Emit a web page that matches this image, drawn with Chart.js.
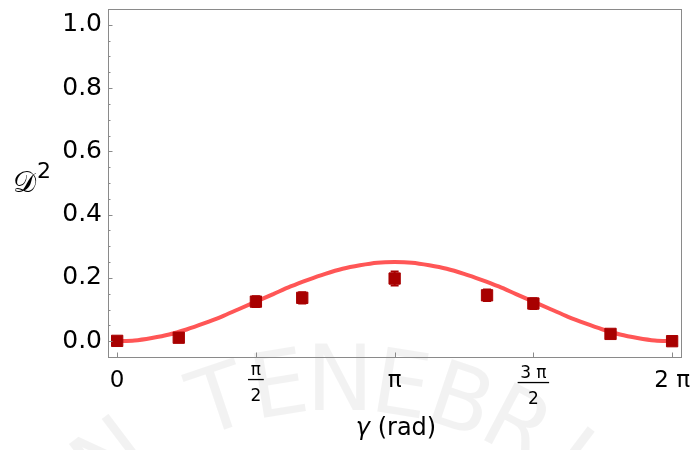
<!DOCTYPE html>
<html>
<head>
<meta charset="utf-8">
<script src="https://cdn.jsdelivr.net/npm/chart.js@4.4.1/dist/chart.umd.min.js"></script>
<style>
  html, body { margin: 0; padding: 0; background: #fff; }
  #wrap { width: 699px; height: 450px; }
</style>
</head>
<body>
<div id="wrap"><canvas id="c" width="699" height="450"></canvas></div>
<script>
// γ values are stored in units of π (0 … 2 means 0 … 2π)
const fitGammaPi = [0, 0.0625, 0.125, 0.1875, 0.25, 0.3125, 0.375, 0.4375, 0.5,
  0.5625, 0.625, 0.6875, 0.75, 0.8125, 0.875, 0.9375, 1,
  1.0625, 1.125, 1.1875, 1.25, 1.3125, 1.375, 1.4375, 1.5,
  1.5625, 1.625, 1.6875, 1.75, 1.8125, 1.875, 1.9375, 2];
const fitD2 = [0.000, 0.002, 0.010, 0.021, 0.037, 0.056, 0.077, 0.101, 0.125,
  0.149, 0.173, 0.194, 0.213, 0.229, 0.240, 0.248, 0.250,
  0.248, 0.240, 0.229, 0.213, 0.194, 0.173, 0.149, 0.125,
  0.101, 0.077, 0.056, 0.037, 0.021, 0.010, 0.002, 0.000];

const measGammaPi = [0, 0.222, 0.5, 0.667, 1, 1.333, 1.5, 1.778, 2];
const measD2      = [0.001, 0.011, 0.125, 0.137, 0.198, 0.145, 0.119, 0.023, 0.000];
const measErr     = [0.004, 0.004, 0.017, 0.018, 0.022, 0.018, 0.017, 0.005, 0.004];

const xTickValues = [0, 0.5, 1, 1.5, 2];
const xTickLabels = [['0'], ['π', '2'], ['π'], ['3 π', '2'], ['2 π']];
const yTickValues = [0, 0.2, 0.4, 0.6, 0.8, 1.0];
const yTickLabels = ['0.0', '0.2', '0.4', '0.6', '0.8', '1.0'];
const yMinorStep = 0.05;

const FONT = '"DejaVu Sans", "Liberation Sans", sans-serif';
const FRAME = '#8a8a8a';
const MARK = '#a80000';
const CURVE = '#ff5656';

// Faint arched lettering behind the plot
const backdrop = {
  id: 'backdrop',
  beforeDraw(chart) {
    const c = chart.ctx;
    c.save();
    c.fillStyle = '#fff';
    c.fillRect(0, 0, chart.width, chart.height);
    c.font = '90px ' + FONT;
    c.fillStyle = 'rgba(0,0,0,0.05)';
    c.textAlign = 'center';
    c.textBaseline = 'alphabetic';
    const text = 'N TENEBRIS';
    const cx = 340, cy = 760, R = 350, step = 9.3 * Math.PI / 180;
    for (let i = 0; i < text.length; i++) {
      const a = (i - 4) * step;
      c.save();
      c.translate(cx + R * Math.sin(a), cy - R * Math.cos(a));
      c.rotate(a);
      c.fillText(text[i], 0, 0);
      c.restore();
    }
    c.restore();
  }
};

// Vertical error bars with caps on the measured points
const errorBars = {
  id: 'errorBars',
  afterDatasetsDraw(chart) {
    const c = chart.ctx, xs = chart.scales.x, ys = chart.scales.y;
    c.save();
    c.strokeStyle = MARK;
    c.lineWidth = 2;
    measGammaPi.forEach((g, i) => {
      const px = xs.getPixelForValue(g);
      const top = ys.getPixelForValue(measD2[i] + measErr[i]);
      const bot = ys.getPixelForValue(measD2[i] - measErr[i]);
      c.beginPath();
      c.moveTo(px, top); c.lineTo(px, bot);
      c.moveTo(px - 4, top); c.lineTo(px + 4, top);
      c.moveTo(px - 4, bot); c.lineTo(px + 4, bot);
      c.stroke();
    });
    c.restore();
  }
};

// Frame, inward ticks, fraction tick labels and axis titles
const frameAndLabels = {
  id: 'frameAndLabels',
  afterDraw(chart) {
    const c = chart.ctx, a = chart.chartArea;
    const xs = chart.scales.x, ys = chart.scales.y;
    c.save();
    c.strokeStyle = FRAME;
    c.lineWidth = 1;
    c.strokeRect(Math.round(a.left) + 0.5, Math.round(a.top) + 0.5,
      Math.round(a.right - a.left), Math.round(a.bottom - a.top));

    // y ticks, major and minor, pointing into the plot
    c.beginPath();
    for (let v = 0; v <= 1.0001; v += yMinorStep) {
      const py = Math.round(ys.getPixelForValue(v)) + 0.5;
      const major = yTickValues.some(t => Math.abs(t - v) < 1e-6);
      c.moveTo(a.left, py); c.lineTo(a.left + (major ? 4.5 : 2.5), py);
    }
    // x ticks
    xTickValues.forEach(v => {
      const px = Math.round(xs.getPixelForValue(v)) + 0.5;
      c.moveTo(px, a.bottom); c.lineTo(px, a.bottom - 4.5);
    });
    c.stroke();

    // x tick labels
    c.fillStyle = '#000';
    c.textAlign = 'center';
    c.textBaseline = 'alphabetic';
    xTickValues.forEach((v, i) => {
      const px = xs.getPixelForValue(v);
      const lab = xTickLabels[i];
      if (lab.length === 1) {
        c.font = '23px ' + FONT;
        c.fillText(lab[0], px, 387);
      } else {
        c.font = '17px ' + FONT;
        const mNum = c.measureText(lab[0]);
        const mDen = c.measureText(lab[1]);
        const numBase = 365 + mNum.actualBoundingBoxAscent;
        c.fillText(lab[0], px, numBase);
        const bar = numBase + 4.5;
        const w = Math.max(mNum.width, mDen.width) + 5;
        c.fillRect(px - w / 2, bar - 0.6, w, 1.3);
        c.fillText(lab[1], px, bar + 21.5);
      }
    });

    // x title: γ (rad)
    c.textAlign = 'left';
    c.font = 'italic 24px ' + FONT;
    const wG = c.measureText('γ').width;
    c.font = '24px ' + FONT;
    const rest = ' (rad)';
    const wR = c.measureText(rest).width;
    const x0 = 396 - (wG + wR) / 2;
    c.font = 'italic 24px ' + FONT;
    c.fillText('γ', x0, 435);
    c.font = '24px ' + FONT;
    c.fillText(rest, x0 + wG, 435);

    // y title: 𝒟²
    c.font = '29px ' + FONT;
    c.fillText('𝒟', 13, 192);
    c.font = '22px ' + FONT;
    c.fillText('2', 37, 178);
    c.restore();
  }
};

new Chart(document.getElementById('c'), {
  type: 'line',
  data: {
    datasets: [
      {
        data: fitGammaPi.map((g, i) => ({ x: g, y: fitD2[i] })),
        borderColor: CURVE,
        borderWidth: 4,
        pointRadius: 0,
        cubicInterpolationMode: 'monotone',
        fill: false,
        order: 2
      },
      {
        data: measGammaPi.map((g, i) => ({ x: g, y: measD2[i] })),
        showLine: false,
        pointStyle: 'rect',
        pointRadius: 8,
        pointBorderWidth: 1,
        pointBackgroundColor: MARK,
        pointBorderColor: MARK,
        order: 1
      }
    ]
  },
  options: {
    responsive: false,
    animation: false,
    devicePixelRatio: 1,
    layout: { padding: { top: 3, right: 18, left: 0, bottom: 0 } },
    plugins: { legend: { display: false }, tooltip: { enabled: false } },
    scales: {
      x: {
        type: 'linear',
        min: -0.033,
        max: 2.032,
        grid: { display: false, drawTicks: false },
        border: { display: false },
        ticks: { display: false },
        afterBuildTicks: s => { s.ticks = xTickValues.map(v => ({ value: v })); },
        afterFit: s => {
          s.height = 93;
          s.paddingLeft = s.paddingRight = s.paddingTop = s.paddingBottom = 0;
        }
      },
      y: {
        min: -0.05,
        max: 1.05,
        grid: { display: false, drawTicks: false },
        border: { display: false },
        ticks: {
          color: '#000',
          font: { family: 'DejaVu Sans', size: 25 },
          padding: 6,
          callback: (v, i) => yTickLabels[i]
        },
        afterBuildTicks: s => { s.ticks = yTickValues.map(v => ({ value: v })); },
        afterFit: s => {
          s.width = 108;
          s.paddingLeft = s.paddingRight = s.paddingTop = s.paddingBottom = 0;
        }
      }
    }
  },
  plugins: [backdrop, errorBars, frameAndLabels]
});
</script>
</body>
</html>
